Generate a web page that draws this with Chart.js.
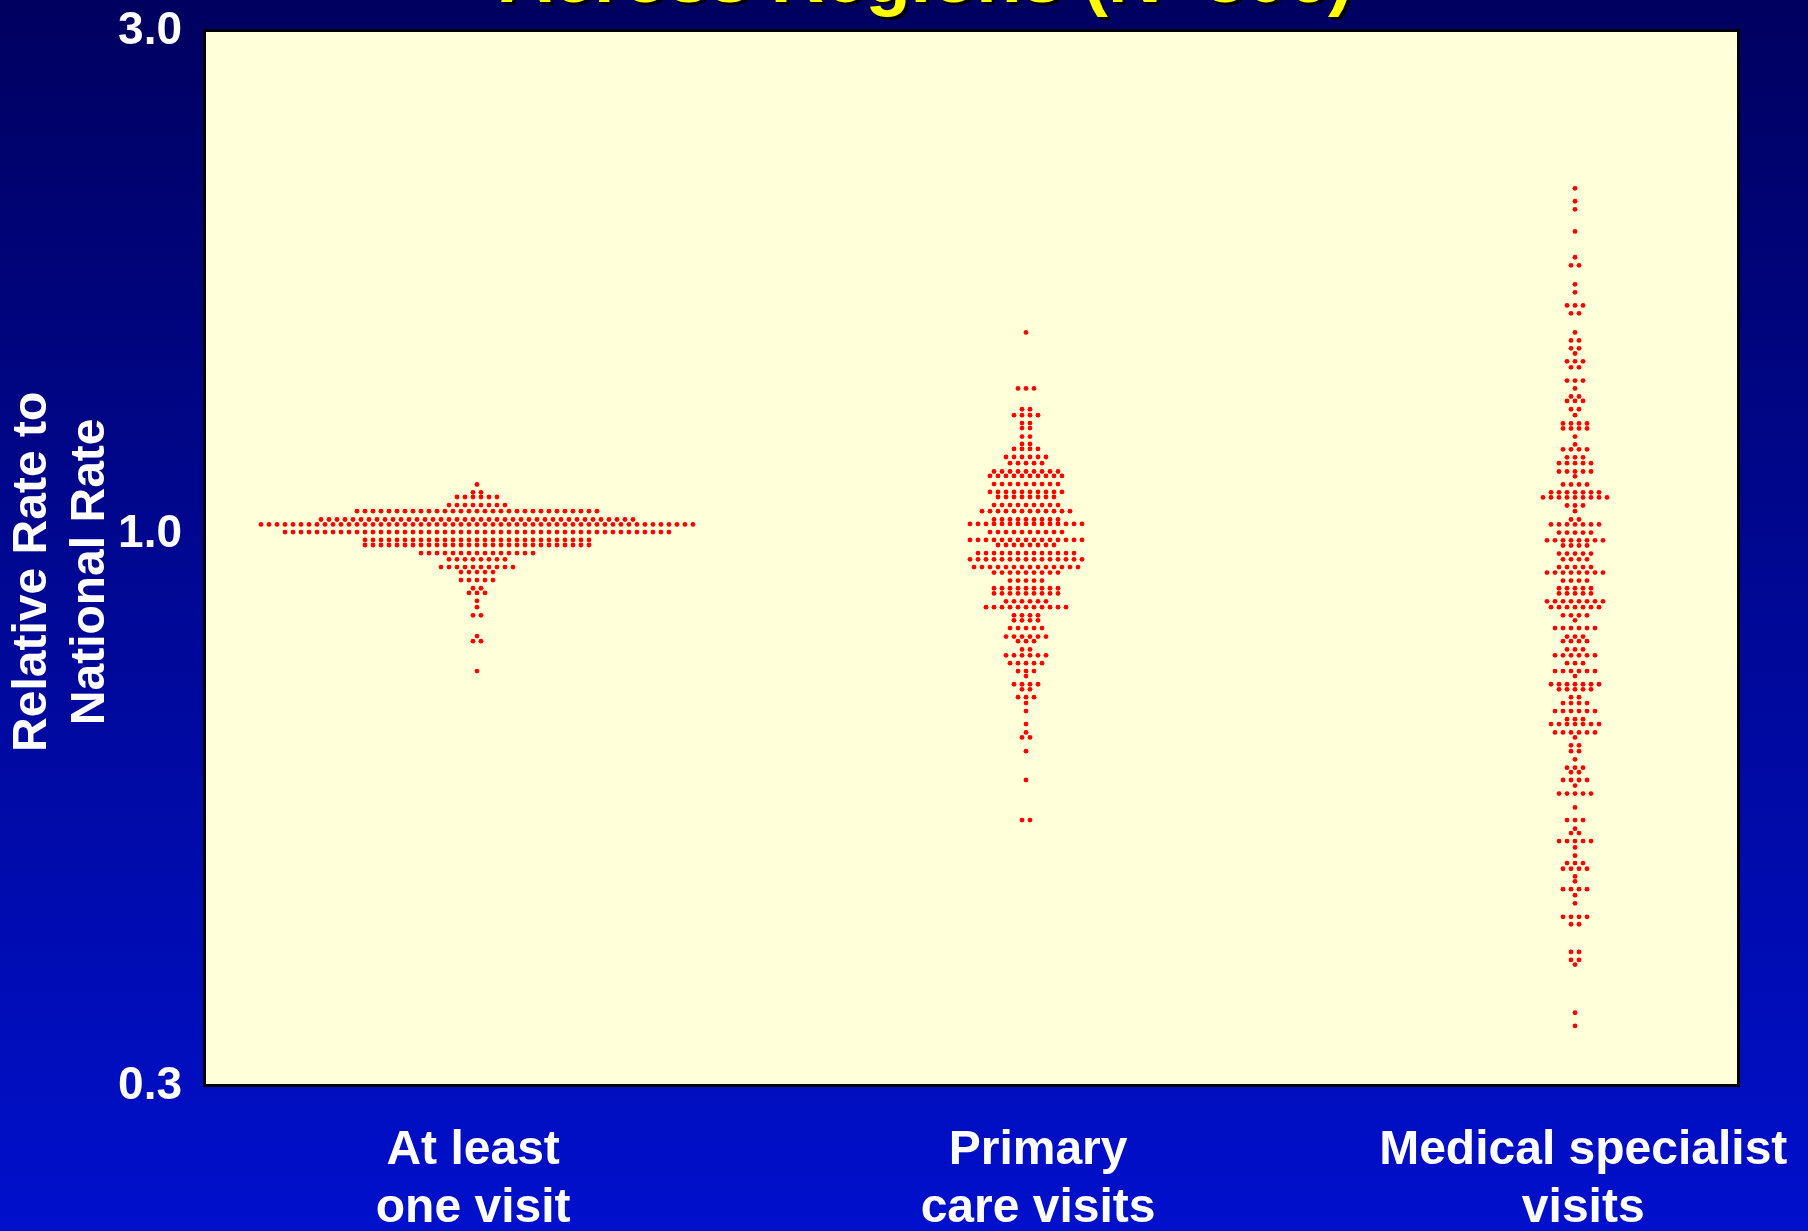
<!DOCTYPE html>
<html>
<head>
  <title>Across Regions (N=306)</title>
  <script src="https://cdn.jsdelivr.net/npm/chart.js"></script>
  <style>
    body {
      margin: 0;
      background-color: #000060;
      overflow: hidden;
    }

    #grafico {
      display: block;
    }
  </style>
</head>
<body>
  <canvas id="grafico" width="1808" height="1231"></canvas>

  <script>
    var titulo = "Across Regions (N=306)";
    var categorias = [["At least", "one visit"], ["Primary", "care visits"], ["Medical specialist", "visits"]];
    var ticksY = [0.3, 1.0, 3.0];

    // each row of dots: relative rate of the row, and how many regions sit in it
    var umaVisitaValores = [1.115, 1.096, 1.085, 1.066, 1.052, 1.033, 1.022, 1.005, 0.988, 0.977, 0.960, 0.947,
      0.931, 0.921, 0.905, 0.889, 0.880, 0.865, 0.853, 0.838, 0.801, 0.792, 0.742];
    var umaVisitaContagens = [1, 2, 6, 8, 31, 40, 55, 49, 29, 29, 15, 8, 10, 5, 5, 2, 3, 1, 1, 2, 1, 2, 1];

    var primariaValores = [1.554, 1.375, 1.314, 1.297, 1.275, 1.261, 1.238, 1.218, 1.205, 1.184, 1.168, 1.147,
      1.136, 1.116, 1.097, 1.085, 1.066, 1.052, 1.033, 1.023, 1.005, 0.988, 0.977, 0.960, 0.947, 0.931, 0.920,
      0.904, 0.889, 0.879, 0.864, 0.853, 0.838, 0.829, 0.815, 0.800, 0.792, 0.778, 0.768, 0.755, 0.742, 0.734,
      0.721, 0.713, 0.701, 0.692, 0.680, 0.661, 0.649, 0.642, 0.623, 0.585, 0.536];
    var primariaContagens = [1, 3, 2, 4, 2, 2, 2, 2, 4, 6, 5, 9, 10, 9, 10, 8, 9, 12, 9, 15, 10, 15, 8, 13, 15,
      14, 9, 5, 9, 9, 6, 11, 4, 4, 5, 6, 3, 2, 6, 5, 3, 1, 4, 2, 3, 1, 1, 1, 1, 2, 1, 1, 2];

    var especialistaValores = [2.128, 2.069, 2.033, 1.937, 1.831, 1.799, 1.726, 1.696, 1.648, 1.620, 1.554,
      1.527, 1.501, 1.484, 1.459, 1.440, 1.399, 1.375, 1.351, 1.338, 1.314, 1.297, 1.274, 1.260, 1.238, 1.217,
      1.204, 1.183, 1.168, 1.147, 1.135, 1.115, 1.096, 1.084, 1.065, 1.052, 1.033, 1.022, 1.004, 0.987, 0.976,
      0.959, 0.947, 0.931, 0.920, 0.904, 0.889, 0.879, 0.864, 0.853, 0.838, 0.829, 0.815, 0.800, 0.792, 0.778,
      0.768, 0.755, 0.742, 0.734, 0.721, 0.713, 0.701, 0.692, 0.680, 0.668, 0.661, 0.649, 0.642, 0.631, 0.623,
      0.612, 0.601, 0.595, 0.585, 0.578, 0.568, 0.551, 0.536, 0.526, 0.521, 0.512, 0.505, 0.496, 0.488, 0.482,
      0.474, 0.469, 0.461, 0.455, 0.447, 0.434, 0.427, 0.402, 0.395, 0.391, 0.352, 0.342];
    var especialistaContagens = [1, 1, 1, 1, 1, 2, 1, 1, 3, 2, 1, 2, 2, 1, 3, 2, 3, 1, 2, 3, 2, 1, 4, 4, 1, 1,
      4, 3, 5, 5, 1, 4, 7, 9, 3, 1, 2, 7, 5, 8, 4, 5, 4, 5, 8, 4, 5, 5, 8, 7, 4, 1, 6, 3, 4, 3, 6, 3, 6, 1, 7,
      5, 2, 4, 6, 3, 7, 6, 1, 2, 2, 1, 3, 2, 4, 1, 5, 1, 3, 1, 2, 5, 1, 1, 3, 4, 1, 1, 4, 1, 1, 4, 2, 2, 2, 1,
      1, 1];

    var passo = 0.01457; // gap between dots in a row, in category units
    var ajusteRotulos = [-0.007, 0.022, 0.015]; // the slide's labels sit a bit off the columns

    function montarPontos(indice, valores, contagens) {
      var pontos = [];
      for (var i = 0; i < valores.length; i++) {
        var n = contagens[i];
        for (var j = 0; j < n; j++) {
          pontos.push({ x: indice + (j - (n - 1) / 2) * passo, y: valores[i] });
        }
      }
      return pontos;
    }

    var fonte = '"Liberation Sans", Arial, sans-serif';

    var fundo = {
      id: "fundo",
      beforeDraw: function (chart) {
        var ctx = chart.ctx;
        var a = chart.chartArea;
        var g = ctx.createLinearGradient(0, 0, 0, chart.height);
        g.addColorStop(0, "#000060");
        g.addColorStop(1, "#0010CC");
        ctx.save();
        ctx.fillStyle = g;
        ctx.fillRect(0, 0, chart.width, chart.height);
        ctx.fillStyle = "#FFFFD9";
        ctx.fillRect(a.left, a.top, a.right - a.left, a.bottom - a.top);
        ctx.restore();
      },
      afterDraw: function (chart) {
        var ctx = chart.ctx;
        var a = chart.chartArea;
        ctx.save();
        ctx.lineWidth = 3;
        ctx.strokeStyle = "#000000";
        ctx.strokeRect(a.left - 0.5, a.top - 0.5, a.right - a.left, a.bottom - a.top);
        // slide title, cut off by the top of the picture
        ctx.font = "bold 74px " + fonte;
        ctx.textAlign = "center";
        ctx.textBaseline = "alphabetic";
        ctx.shadowColor = "#000000";
        ctx.shadowOffsetX = 3;
        ctx.shadowOffsetY = 3;
        ctx.fillStyle = "#FFFF00";
        ctx.fillText(titulo, 926, 2);
        ctx.restore();
      }
    };

    var ctx = document.getElementById("grafico").getContext("2d");
    var chart = new Chart(ctx, {
      type: "scatter",
      data: {
        datasets: [
          { data: montarPontos(0, umaVisitaValores, umaVisitaContagens) },
          { data: montarPontos(1, primariaValores, primariaContagens) },
          { data: montarPontos(2, especialistaValores, especialistaContagens) }
        ]
      },
      options: {
        responsive: false,
        animation: false,
        layout: {
          padding: { top: 31, right: 69, bottom: 0, left: 0 }
        },
        elements: {
          point: {
            radius: 2.4,
            borderWidth: 0,
            backgroundColor: "#FF0000",
            borderColor: "#FF0000"
          }
        },
        plugins: {
          legend: { display: false },
          tooltip: { enabled: false }
        },
        scales: {
          x: {
            type: "linear",
            min: -0.4954,
            max: 2.2987,
            grid: { display: false, drawTicks: false },
            border: { display: false },
            afterBuildTicks: function (scale) {
              scale.ticks = categorias.map(function (c, i) { return { value: i + ajusteRotulos[i] }; });
            },
            afterFit: function (scale) {
              scale.height = 145;
              scale.paddingLeft = 0;
              scale.paddingRight = 0;
            },
            ticks: {
              autoSkip: false,
              maxRotation: 0,
              padding: 36,
              color: "#FFFFFF",
              font: { family: fonte, size: 48, weight: "bold", lineHeight: 1.2 },
              callback: function (v) {
                return categorias[Math.round(v)];
              }
            }
          },
          y: {
            type: "logarithmic",
            min: 0.3,
            max: 3.0,
            grid: { display: false, drawTicks: false },
            border: { display: false },
            afterBuildTicks: function (scale) {
              scale.ticks = ticksY.map(function (v) { return { value: v }; });
            },
            afterFit: function (scale) {
              scale.width = 205;
              scale.paddingTop = 0;
              scale.paddingBottom = 0;
            },
            ticks: {
              padding: 23,
              color: "#FFFFFF",
              font: { family: fonte, size: 46, weight: "bold" },
              callback: function (v) {
                return Number(v).toFixed(1);
              }
            },
            title: {
              display: true,
              // trailing spaces push the centred title a little lower, as on the slide
              text: ["Relative Rate to  ", "National Rate  "],
              color: "#FFFFFF",
              padding: { top: 4, bottom: 0 },
              font: { family: fonte, size: 48, weight: "bold", lineHeight: 1.2 }
            }
          }
        }
      },
      plugins: [fundo]
    });
  </script>
</body>
</html>
